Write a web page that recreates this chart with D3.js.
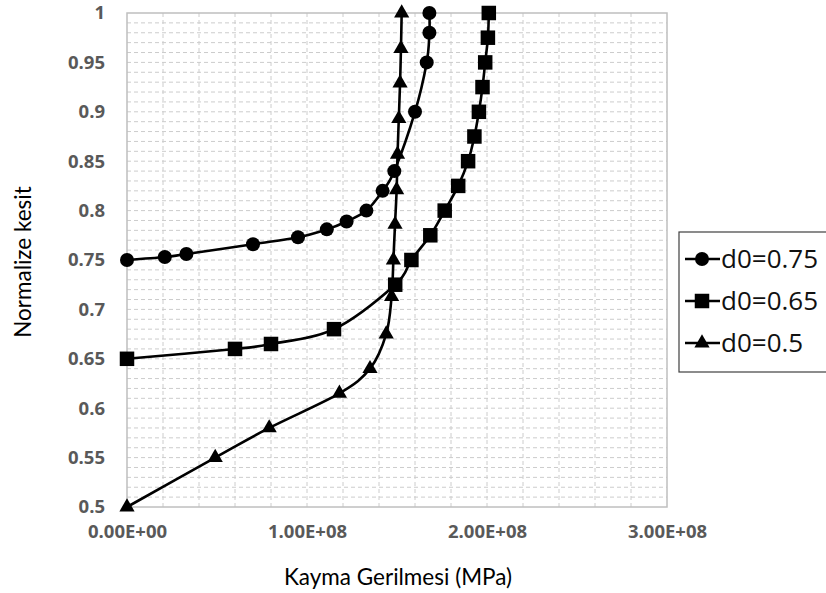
<!DOCTYPE html>
<html>
<head>
<meta charset="utf-8">
<script src="https://cdn.jsdelivr.net/npm/d3@7/dist/d3.min.js"></script>
<style>
  html, body { margin: 0; padding: 0; background: #fff; }
  svg { display: block; }
</style>
</head>
<body>
<svg id="chart" width="826" height="593"></svg>
<script>
// Shear stress (Pa) along the normalized section for three d0 values
const seriesNames = ["d0=0.75", "d0=0.65", "d0=0.5"];

const stress075 = [0, 0.21e8, 0.33e8, 0.70e8, 0.95e8, 1.11e8, 1.22e8, 1.33e8, 1.42e8, 1.485e8, 1.60e8, 1.665e8, 1.68e8, 1.68e8];
const section075 = [0.75, 0.753, 0.756, 0.766, 0.773, 0.781, 0.789, 0.80, 0.82, 0.84, 0.90, 0.95, 0.98, 1.0];

const stress065 = [0, 0.60e8, 0.80e8, 1.15e8, 1.49e8, 1.58e8, 1.685e8, 1.765e8, 1.84e8, 1.895e8, 1.93e8, 1.955e8, 1.975e8, 1.99e8, 2.005e8, 2.01e8];
const section065 = [0.65, 0.66, 0.665, 0.68, 0.725, 0.75, 0.775, 0.80, 0.825, 0.85, 0.875, 0.90, 0.925, 0.95, 0.975, 1.0];

const stress05 = [0, 0.49e8, 0.79e8, 1.18e8, 1.35e8, 1.44e8, 1.47e8, 1.48e8, 1.489e8, 1.498e8, 1.503e8, 1.51e8, 1.517e8, 1.522e8, 1.526e8];
const section05 = [0.5, 0.55, 0.58, 0.615, 0.64, 0.675, 0.713, 0.75, 0.786, 0.821, 0.857, 0.893, 0.929, 0.964, 1.0];

const xTickValues = [0, 1e8, 2e8, 3e8];
const xTickLabels = ["0.00E+00", "1.00E+08", "2.00E+08", "3.00E+08"];
const yTickValues = [0.5, 0.55, 0.6, 0.65, 0.7, 0.75, 0.8, 0.85, 0.9, 0.95, 1];
const yTickLabels = ["0.5", "0.55", "0.6", "0.65", "0.7", "0.75", "0.8", "0.85", "0.9", "0.95", "1"];

const xTitle = "Kayma Gerilmesi (MPa)";
const yTitle = "Normalize kesit";

const svg = d3.select("#chart");
const plot = { left: 127, right: 667, top: 13, bottom: 507 };

const x = d3.scaleLinear().domain([0, 3e8]).range([plot.left, plot.right]);
const y = d3.scaleLinear().domain([0.5, 1]).range([plot.bottom, plot.top]);

const gridColor = "#cccccc";
const tickFont = "'Open Sans', 'Liberation Sans', sans-serif";
const titleFont = "Lato, 'Liberation Sans', sans-serif";

// Grid: horizontal every 0.01, vertical every 2e7, all dashed
const gGrid = svg.append("g");
gGrid.selectAll("line.h")
  .data(d3.range(51, 100).map(i => i / 100))
  .join("line")
  .attr("x1", plot.left).attr("x2", plot.right)
  .attr("y1", d => y(d)).attr("y2", d => y(d))
  .attr("stroke", gridColor).attr("stroke-width", 1)
  .attr("stroke-dasharray", "4,3");
gGrid.selectAll("line.v")
  .data(d3.range(1, 15).map(i => i * 2e7))
  .join("line")
  .attr("y1", plot.top).attr("y2", plot.bottom)
  .attr("x1", d => x(d)).attr("x2", d => x(d))
  .attr("stroke", gridColor).attr("stroke-width", 1)
  .attr("stroke-dasharray", "4,3");

// Plot frame
svg.append("rect")
  .attr("x", plot.left).attr("y", plot.top)
  .attr("width", plot.right - plot.left).attr("height", plot.bottom - plot.top)
  .attr("fill", "none").attr("stroke", "#bfbfbf").attr("stroke-width", 1.5);

// Axes (labels only; the frame draws the axis lines)
const xAxis = d3.axisBottom(x)
  .tickValues(xTickValues)
  .tickFormat((d, i) => xTickLabels[i])
  .tickSize(0).tickPadding(18);
const gx = svg.append("g").attr("transform", `translate(0,${plot.bottom})`).call(xAxis);
gx.select(".domain").remove();
gx.selectAll("text")
  .attr("font-family", tickFont).attr("font-weight", "bold")
  .attr("font-size", 18.5).attr("fill", "#595959");

const yAxis = d3.axisLeft(y)
  .tickValues(yTickValues)
  .tickFormat((d, i) => yTickLabels[i])
  .tickSize(0).tickPadding(22);
const gy = svg.append("g").attr("transform", `translate(${plot.left},0)`).call(yAxis);
gy.select(".domain").remove();
gy.selectAll("text")
  .attr("font-family", tickFont).attr("font-weight", "bold")
  .attr("font-size", 18.5).attr("fill", "#595959");

// Axis titles
svg.append("text")
  .attr("x", 398).attr("y", 585)
  .attr("text-anchor", "middle")
  .attr("font-family", titleFont).attr("font-size", 22.5).attr("fill", "#000")
  .text(xTitle);
svg.append("text")
  .attr("transform", "translate(31,262) rotate(-90)")
  .attr("text-anchor", "middle")
  .attr("font-family", titleFont).attr("font-size", 22.5).attr("fill", "#000")
  .text(yTitle);

// Series
const series = [
  { name: seriesNames[0], xs: stress075, ys: section075, marker: "circle" },
  { name: seriesNames[1], xs: stress065, ys: section065, marker: "square" },
  { name: seriesNames[2], xs: stress05, ys: section05, marker: "triangle" }
];

const line = d3.line()
  .x(d => x(d[0])).y(d => y(d[1]))
  .curve(d3.curveCardinal.tension(0));

const symbols = {
  circle: d3.symbol().type(d3.symbolCircle).size(Math.PI * 7 * 7),
  square: d3.symbol().type(d3.symbolSquare).size(14.5 * 14.5),
  triangle: d3.symbol().type(d3.symbolTriangle).size(100)
};

series.forEach(s => {
  const pts = s.xs.map((v, i) => [v, s.ys[i]]);
  svg.append("path")
    .attr("d", line(pts))
    .attr("fill", "none").attr("stroke", "#000").attr("stroke-width", 2.6);
  svg.append("g").selectAll("path")
    .data(pts)
    .join("path")
    .attr("transform", d => `translate(${x(d[0])},${y(d[1])})`)
    .attr("d", symbols[s.marker]())
    .attr("fill", "#000");
});

// Legend
const legend = svg.append("g");
legend.append("rect")
  .attr("x", 679).attr("y", 232).attr("width", 160).attr("height", 140)
  .attr("fill", "#fff").attr("stroke", "#404040").attr("stroke-width", 1.2);
const legendY = [259, 301, 343];
series.forEach((s, i) => {
  const ly = legendY[i];
  legend.append("line")
    .attr("x1", 685).attr("x2", 720).attr("y1", ly).attr("y2", ly)
    .attr("stroke", "#000").attr("stroke-width", 2.6);
  legend.append("path")
    .attr("transform", `translate(702,${ly})`)
    .attr("d", symbols[s.marker]())
    .attr("fill", "#000");
  legend.append("text")
    .attr("x", 721).attr("y", ly).attr("dy", "0.36em")
    .attr("font-family", "'Open Sans', sans-serif").attr("font-size", 26).attr("fill", "#111")
    .text(s.name);
});
</script>
</body>
</html>
